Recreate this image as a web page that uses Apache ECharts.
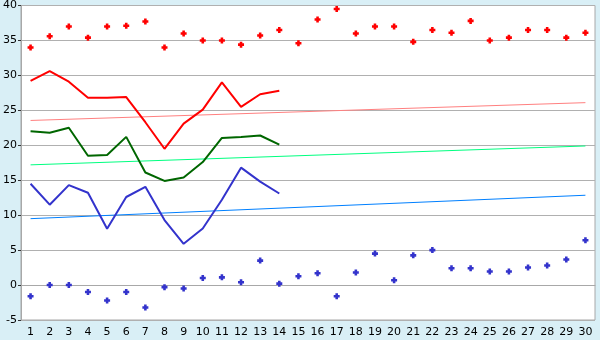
<!DOCTYPE html>
<html>
<head>
<meta charset="utf-8">
<script src="https://cdn.jsdelivr.net/npm/echarts@6/dist/echarts.min.js"></script>
<style>
html,body{margin:0;padding:0;background:#d9eff6;}
#c{width:600px;height:340px;}
</style>
</head>
<body>
<div id="c"></div>
<script>
var categories = ['1','2','3','4','5','6','7','8','9','10','11','12','13','14','15','16','17','18','19','20','21','22','23','24','25','26','27','28','29','30'];
var redPoints = [34, 35.6, 37, 35.4, 37, 37.1, 37.7, 34, 36, 35, 35, 34.4, 35.7, 36.5, 34.6, 38, 39.5, 36, 37, 37, 34.8, 36.5, 36.1, 37.8, 35, 35.4, 36.5, 36.5, 35.4, 36.1];
var redLine = [29.2, 30.6, 29.1, 26.8, 26.8, 26.9, 23.3, 19.5, 23.1, 25.1, 29, 25.5, 27.3, 27.8];
var greenLine = [22, 21.8, 22.5, 18.5, 18.6, 21.2, 16.1, 14.9, 15.4, 17.6, 21.05, 21.2, 21.4, 20.1];
var blueLine = [14.5, 11.5, 14.3, 13.2, 8.05, 12.6, 14.05, 9.3, 5.9, 8.1, 12.2, 16.8, 14.8, 13.1];
var bluePoints = [-1.6, 0, 0, -1, -2.2, -1, -3.2, -0.3, -0.5, 1, 1.1, 0.4, 3.5, 0.2, 1.25, 1.7, -1.6, 1.8, 4.5, 0.7, 4.25, 5, 2.4, 2.4, 1.95, 1.95, 2.5, 2.8, 3.65, 6.4];
// trend lines: [start value at first category, end value at last category]
var redTrend = [23.55, 26.1];
var greenTrend = [17.2, 19.9];
var blueTrend = [9.5, 12.85];
var yTicks = {min: -5, max: 40, interval: 5};

var chart = echarts.init(document.getElementById('c'));
var last = categories.length - 1;
function trend(t){ return [[0, t[0]], [last, t[1]]]; }
var font = 'DejaVu Sans';
var marker = 'path://M2,0H5V2H7V5H5V7H2V5H0V2H2Z';
chart.setOption({
  animation: false,
  backgroundColor: '#d9eff6',
  grid: {left: 20, right: 5, top: 5, bottom: 20, containLabel: false, show: true,
         backgroundColor: '#ffffff', borderColor: '#a8a8a8', borderWidth: 1},
  xAxis: {
    type: 'category', data: categories, boundaryGap: true,
    axisLine: {lineStyle: {color: '#a8a8a8', width: 1}},
    axisTick: {alignWithLabel: true, length: 5, lineStyle: {color: '#333'}},
    axisLabel: {color: '#000', fontFamily: font, fontSize: 11, margin: 7, interval: 0},
    splitLine: {show: false}
  },
  yAxis: {
    type: 'value', min: yTicks.min, max: yTicks.max, interval: yTicks.interval,
    axisLine: {show: true, lineStyle: {color: '#a8a8a8', width: 1}},
    axisTick: {show: true, length: 3, lineStyle: {color: '#333'}},
    axisLabel: {color: '#000', fontFamily: font, fontSize: 11, margin: 4},
    splitLine: {show: true, lineStyle: {color: '#b0b0b0', width: 1}}
  },
  series: [
    {type: 'line', data: trend(redTrend), showSymbol: false, symbol: 'none',
     lineStyle: {color: '#ff8080', width: 1}, z: 1},
    {type: 'line', data: trend(greenTrend), showSymbol: false, symbol: 'none',
     lineStyle: {color: '#00ff80', width: 1}, z: 1},
    {type: 'line', data: trend(blueTrend), showSymbol: false, symbol: 'none',
     lineStyle: {color: '#0080ff', width: 1}, z: 1},
    {type: 'line', data: redLine, symbol: 'none', lineStyle: {color: '#ff0000', width: 2}, z: 2},
    {type: 'line', data: greenLine, symbol: 'none', lineStyle: {color: '#006600', width: 2}, z: 2},
    {type: 'line', data: blueLine, symbol: 'none', lineStyle: {color: '#3333cc', width: 2}, z: 2},
    {type: 'scatter', data: redPoints, symbol: marker, symbolSize: 6,
     itemStyle: {color: '#ff0000', opacity: 1}, z: 3},
    {type: 'scatter', data: bluePoints, symbol: marker, symbolSize: 6,
     itemStyle: {color: '#3333cc', opacity: 1}, z: 3}
  ]
});
</script>
</body>
</html>
